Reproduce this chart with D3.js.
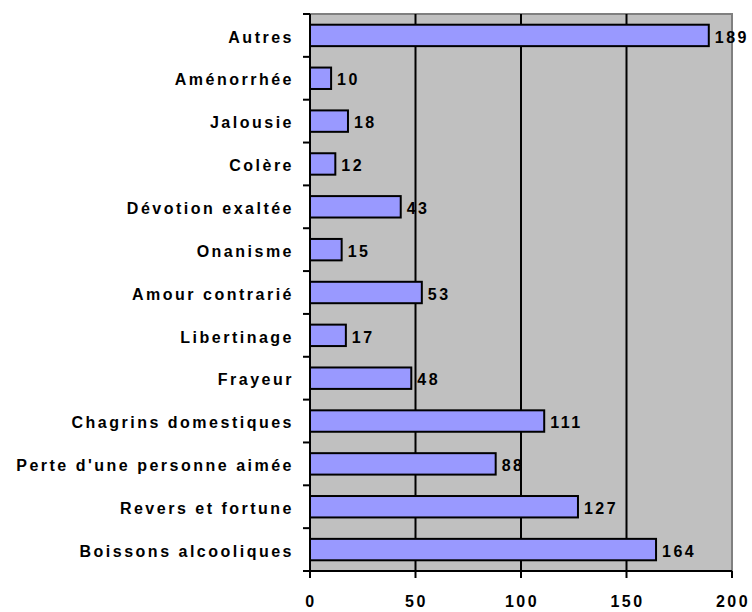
<!DOCTYPE html>
<html>
<head>
<meta charset="utf-8">
<script src="https://cdn.jsdelivr.net/npm/d3@7"></script>
<style>
  body { margin: 0; background: #fff; }
  text { font-family: "Liberation Sans", Arial, sans-serif; font-weight: bold; font-size: 16px; letter-spacing: 2.5px; fill: #000; }
</style>
</head>
<body>
<div id="chart"></div>
<script>
// categories top to bottom
const causes = [
  "Autres", "Aménorrhée", "Jalousie", "Colère", "Dévotion exaltée",
  "Onanisme", "Amour contrarié", "Libertinage", "Frayeur",
  "Chagrins domestiques", "Perte d'une personne aimée",
  "Revers et fortune", "Boissons alcooliques"
]
const counts = [189, 10, 18, 12, 43, 15, 53, 17, 48, 111, 88, 127, 164]
const xTicks = [0, 50, 100, 150, 200]

const W = 752, H = 612
const pad = { left: 310, top: 14, right: 20, bottom: 41 }
const width = W - pad.left - pad.right
const height = H - pad.top - pad.bottom

const svg = d3.select("#chart").append("svg")
  .attr("width", W).attr("height", H)

const g = svg.append("g").attr("transform", `translate(${pad.left},${pad.top})`)

const x = d3.scaleLinear().domain([0, 200]).range([0, width])
const y = d3.scaleBand().domain(causes).range([0, height]).paddingInner(0.5).paddingOuter(0.25)
const band = d3.scaleBand().domain(causes).range([0, height])

// plot background
g.append("rect")
  .attr("width", width).attr("height", height)
  .attr("fill", "#c0c0c0")
  .attr("stroke", "#808080").attr("stroke-width", 2)

// gridlines
g.append("g").selectAll("line")
  .data(xTicks.filter(d => d > 0 && d < 200))
  .enter().append("line")
  .attr("x1", d => x(d)).attr("x2", d => x(d))
  .attr("y1", 0).attr("y2", height)
  .attr("stroke", "#000").attr("stroke-width", 2)

// bars
g.append("g").selectAll("rect")
  .data(causes)
  .enter().append("rect")
  .attr("x", 0)
  .attr("y", d => y(d))
  .attr("width", (d, i) => x(counts[i]))
  .attr("height", y.bandwidth())
  .attr("fill", "#9999ff")
  .attr("stroke", "#000").attr("stroke-width", 2)

// value labels
g.append("g").selectAll("text")
  .data(causes)
  .enter().append("text")
  .attr("x", (d, i) => x(counts[i]) + 6)
  .attr("y", d => y(d) + y.bandwidth() / 2)
  .attr("dy", "0.45em")
  .text((d, i) => counts[i])

// y axis
const yAxis = g.append("g")
yAxis.append("line")
  .attr("x1", 0).attr("x2", 0).attr("y1", 0).attr("y2", height + 6)
  .attr("stroke", "#000").attr("stroke-width", 2)
yAxis.selectAll("line.tick")
  .data(causes.concat(["end"]))
  .enter().append("line")
  .attr("class", "tick")
  .attr("x1", -7).attr("x2", 0)
  .attr("y1", (d, i) => i * band.bandwidth())
  .attr("y2", (d, i) => i * band.bandwidth())
  .attr("stroke", "#000").attr("stroke-width", 2)
yAxis.selectAll("text")
  .data(causes)
  .enter().append("text")
  .attr("x", -16)
  .attr("y", d => y(d) + y.bandwidth() / 2)
  .attr("dy", "0.45em")
  .attr("text-anchor", "end")
  .text(d => d)

// x axis
const xAxis = g.append("g").attr("transform", `translate(0,${height})`)
xAxis.append("line")
  .attr("x1", -7).attr("x2", width).attr("y1", 0).attr("y2", 0)
  .attr("stroke", "#000").attr("stroke-width", 2)
xAxis.selectAll("line.tick")
  .data(xTicks)
  .enter().append("line")
  .attr("class", "tick")
  .attr("x1", d => x(d)).attr("x2", d => x(d))
  .attr("y1", 0).attr("y2", 7)
  .attr("stroke", "#000").attr("stroke-width", 2)
xAxis.selectAll("text")
  .data(xTicks)
  .enter().append("text")
  .attr("x", d => x(d) + 1)
  .attr("y", 36)
  .attr("text-anchor", "middle")
  .text(d => d)
</script>
</body>
</html>
